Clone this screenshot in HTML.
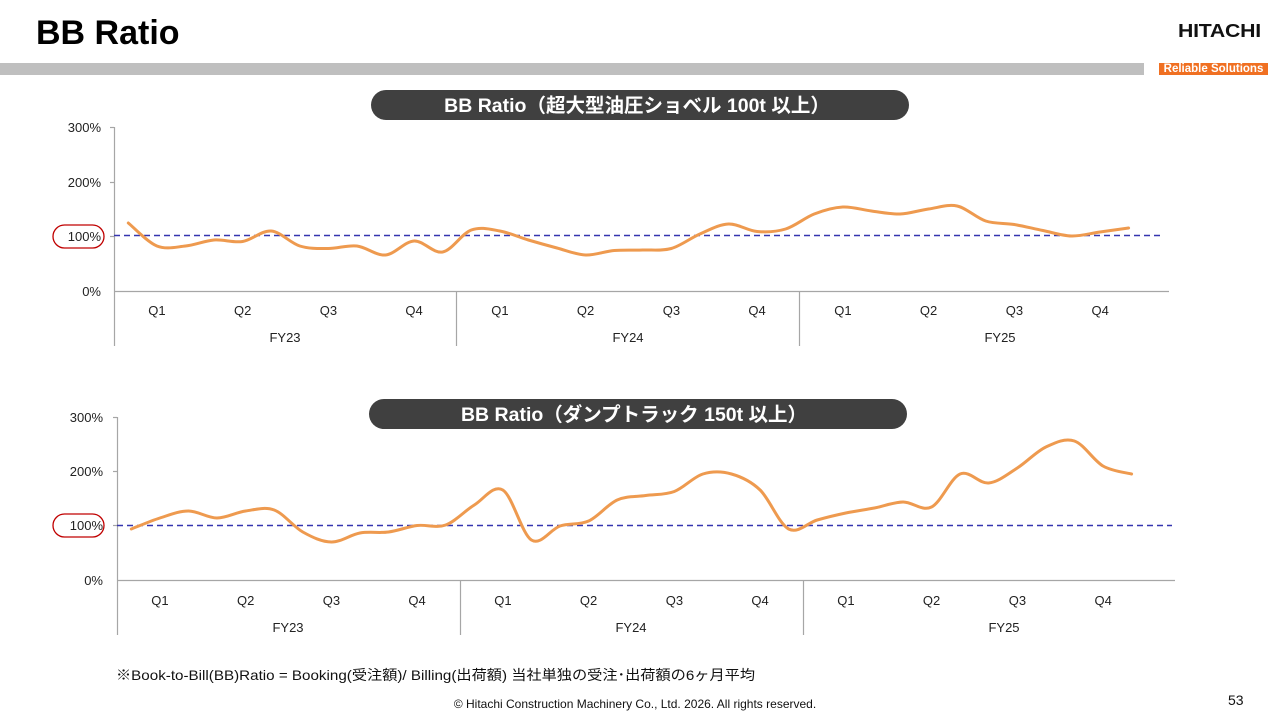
<!DOCTYPE html>
<html>
<head>
<meta charset="utf-8">
<style>
  html,body{margin:0;padding:0;background:#fff;}
  body{width:1280px;height:720px;overflow:hidden;position:relative;font-family:"Liberation Sans","Noto Sans CJK JP",sans-serif;}
  .abs{position:absolute;}
</style>
</head>
<body>
<div class="abs" style="left:36px;top:14px;font-size:34px;font-weight:bold;color:#000;">BB Ratio</div>
<div class="abs" style="left:0;top:63px;width:1144px;height:12px;background:#bfbfbf;"></div>
<div class="abs" style="left:1178px;top:21px;font-size:18px;font-weight:bold;color:#111;transform:scaleX(1.18);transform-origin:0 0;letter-spacing:-0.2px;">HITACHI</div>
<div class="abs" style="left:1159px;top:63px;width:109px;height:12px;background:#f07022;"></div>
<div class="abs" style="left:1159px;top:62px;width:109px;height:14px;color:#fff;font-size:11.5px;font-weight:bold;line-height:14px;text-align:center;font-family:'Liberation Sans',sans-serif;">Reliable Solutions</div>

<svg class="abs" style="left:0;top:0" width="1280" height="720" xmlns="http://www.w3.org/2000/svg">
  <!-- Chart 1 title pill -->
  <rect x="371" y="90" width="538" height="30" rx="15" fill="#404040"/>
  <text x="637" y="112" text-anchor="middle" fill="#fff" font-size="19.5" font-weight="bold" font-family="Liberation Sans, Noto Sans CJK JP, sans-serif">BB Ratio（超大型油圧ショベル 100t 以上）</text>

  <!-- Chart 1 axes -->
  <g stroke="#a6a6a6" stroke-width="1.2" fill="none">
    <line x1="114.5" y1="127" x2="114.5" y2="346"/>
    <line x1="114" y1="291.5" x2="1169" y2="291.5"/>
    <line x1="456.5" y1="291" x2="456.5" y2="346"/>
    <line x1="799.5" y1="291" x2="799.5" y2="346"/>
    <line x1="110" y1="127.5" x2="114" y2="127.5"/>
    <line x1="110" y1="182.5" x2="114" y2="182.5"/>
    <line x1="110" y1="236.5" x2="114" y2="236.5"/>
  </g>
  <g font-size="13" fill="#222" text-anchor="end" font-family="Liberation Sans, sans-serif">
    <text x="101" y="132">300%</text>
    <text x="101" y="187">200%</text>
    <text x="101" y="241">100%</text>
    <text x="101" y="296">0%</text>
  </g>
  <rect x="53" y="225" width="51" height="23" rx="11.5" fill="none" stroke="#c00000" stroke-width="1.3"/>
  <line x1="114" y1="235.5" x2="1163" y2="235.5" stroke="#3535b0" stroke-width="1.5" stroke-dasharray="6,4"/>
  <g id="q1" font-size="13" fill="#222" text-anchor="middle" font-family="Liberation Sans, sans-serif"></g>
  <path id="l1" fill="none" stroke="#ee9a4f" stroke-width="3" stroke-linecap="round" stroke-linejoin="round"/>

  <!-- Chart 2 title pill -->
  <rect x="369" y="399" width="538" height="30" rx="15" fill="#404040"/>
  <text x="634" y="421" text-anchor="middle" fill="#fff" font-size="19.5" font-weight="bold" font-family="Liberation Sans, Noto Sans CJK JP, sans-serif">BB Ratio（ダンプトラック 150t 以上）</text>

  <g stroke="#a6a6a6" stroke-width="1.2" fill="none">
    <line x1="117.5" y1="417" x2="117.5" y2="635"/>
    <line x1="117" y1="580.5" x2="1175" y2="580.5"/>
    <line x1="460.5" y1="580" x2="460.5" y2="635"/>
    <line x1="803.5" y1="580" x2="803.5" y2="635"/>
    <line x1="113" y1="417.5" x2="117" y2="417.5"/>
    <line x1="113" y1="471.5" x2="117" y2="471.5"/>
    <line x1="113" y1="525.5" x2="117" y2="525.5"/>
  </g>
  <g font-size="13" fill="#222" text-anchor="end" font-family="Liberation Sans, sans-serif">
    <text x="103" y="422">300%</text>
    <text x="103" y="476">200%</text>
    <text x="103" y="530">100%</text>
    <text x="103" y="585">0%</text>
  </g>
  <rect x="53" y="514" width="51" height="23" rx="11.5" fill="none" stroke="#c00000" stroke-width="1.3"/>
  <line x1="117" y1="525.5" x2="1172" y2="525.5" stroke="#3535b0" stroke-width="1.5" stroke-dasharray="6,4"/>
  <g id="q2" font-size="13" fill="#222" text-anchor="middle" font-family="Liberation Sans, sans-serif"></g>
  <path id="l2" fill="none" stroke="#ee9a4f" stroke-width="3" stroke-linecap="round" stroke-linejoin="round"/>

  <text x="116" y="680" font-size="14" fill="#111" textLength="639" lengthAdjust="spacingAndGlyphs" font-family="Liberation Sans, Noto Sans CJK JP, sans-serif">※Book-to-Bill(BB)Ratio = Booking(受注額)/ Billing(出荷額) 当社単独の受注･出荷額の6ヶ月平均</text>
  <text x="635" y="708" text-anchor="middle" font-size="12" fill="#111" font-family="Liberation Sans, sans-serif">© Hitachi Construction Machinery Co., Ltd. 2026. All rights reserved.</text>
  <text x="1228" y="705" font-size="14" fill="#111" font-family="Liberation Sans, sans-serif">53</text>
</svg>

<script>
(function(){
  var NS="http://www.w3.org/2000/svg";
  function path(x0,ys){
    var pts=ys.map(function(y,i){return [x0+28.58*i,y];});
    var d="M"+pts[0][0].toFixed(1)+","+pts[0][1].toFixed(1);
    for(var i=0;i<pts.length-1;i++){
      var p0=pts[i-1]||pts[i],p1=pts[i],p2=pts[i+1],p3=pts[i+2]||pts[i+1];
      var c1x=p1[0]+(p2[0]-p0[0])/6,c1y=p1[1]+(p2[1]-p0[1])/6;
      var c2x=p2[0]-(p3[0]-p1[0])/6,c2y=p2[1]-(p3[1]-p1[1])/6;
      d+=" C"+c1x.toFixed(1)+","+c1y.toFixed(1)+" "+c2x.toFixed(1)+","+c2y.toFixed(1)+" "+p2[0].toFixed(1)+","+p2[1].toFixed(1);
    }
    return d;
  }
  var y1=[223,246,246,240,241.5,231,246,248.5,246,255,241,252,230,231,240,248,255,250.5,250,248.5,234,224,231.5,229,214,207,211,214,209,206,221,224.5,230.5,236,232,228];
  var y2=[529,518,511,518,511,510,532,542,533,532,525.5,525,505,490,540,526,521,500,495.5,491.5,474,474,490,529,520,513,508,502,507,474,483,468,447,441,466,474];
  document.getElementById("l1").setAttribute("d",path(128.3,y1));
  document.getElementById("l2").setAttribute("d",path(131.3,y2));
  function labels(id,x0,yq,yf,fyx){
    var g=document.getElementById(id);
    var q=["Q1","Q2","Q3","Q4"];
    for(var k=0;k<12;k++){
      var t=document.createElementNS(NS,"text");
      t.setAttribute("x",(x0+42.9+85.75*k).toFixed(1));
      t.setAttribute("y",yq);
      t.textContent=q[k%4];
      g.appendChild(t);
    }
    var fy=["FY23","FY24","FY25"];
    for(var j=0;j<3;j++){
      var t2=document.createElementNS(NS,"text");
      t2.setAttribute("x",fyx[j]);
      t2.setAttribute("y",yf);
      t2.textContent=fy[j];
      g.appendChild(t2);
    }
  }
  labels("q1",114,315,342,[285,628,1000]);
  labels("q2",117,605,632,[288,631,1004]);
})();
</script>
</body>
</html>
